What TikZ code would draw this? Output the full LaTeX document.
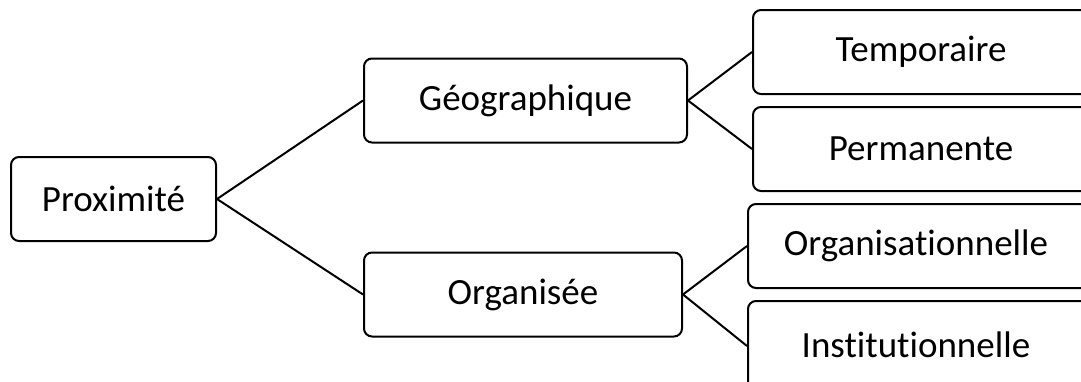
\documentclass[tikz,border=0pt]{standalone}
\usepackage{fontspec}
\setmainfont[Ligatures=NoCommon]{Carlito}
\usepackage{tikz}
\usetikzlibrary{positioning}

\begin{document}
\begin{tikzpicture}[
    x=1pt, y=-1pt, % pixel-like units
    box/.style={draw, line width=2pt, rounded corners=8pt, inner sep=0pt,
        minimum height=84pt, font=\fontsize{37}{44}\selectfont},
    leafbox/.style={box, minimum width=350pt},
    link/.style={line width=2pt}
]
    \clip (0,0) rectangle (1081,381);

    % Root
    \node (prox) [box, minimum width=205pt] at (113.5, 199) {Proximité};

    % Middle column
    \node (geo) [box, minimum width=323pt] at (525.5, 100.5) {Géographique};
    \node (orga) [box, minimum width=318pt] at (523, 294.5) {Organisée};

    % Right column
    \node (temp) [leafbox] at (928, 52)  {\hspace*{-14pt}Temporaire};
    \node (perm) [leafbox] at (928, 149) {\hspace*{-14pt}Permanente};
    \node (orgl) [leafbox] at (923, 246) {\hspace*{-14pt}Organisationnelle};
    \node (inst) [leafbox, minimum height=90pt] at (923, 346) {\raisebox{3pt}{\hspace*{-14pt}Institutionnelle}};

    % Links
    \draw[link] (prox.east) -- (geo.west);
    \draw[link] (prox.east) -- (orga.west);
    \draw[link] (geo.east) -- (temp.west);
    \draw[link] (geo.east) -- (perm.west);
    \draw[link] (orga.east) -- (orgl.west);
    \draw[link] (orga.east) -- (inst.west);
\end{tikzpicture}
\end{document}
